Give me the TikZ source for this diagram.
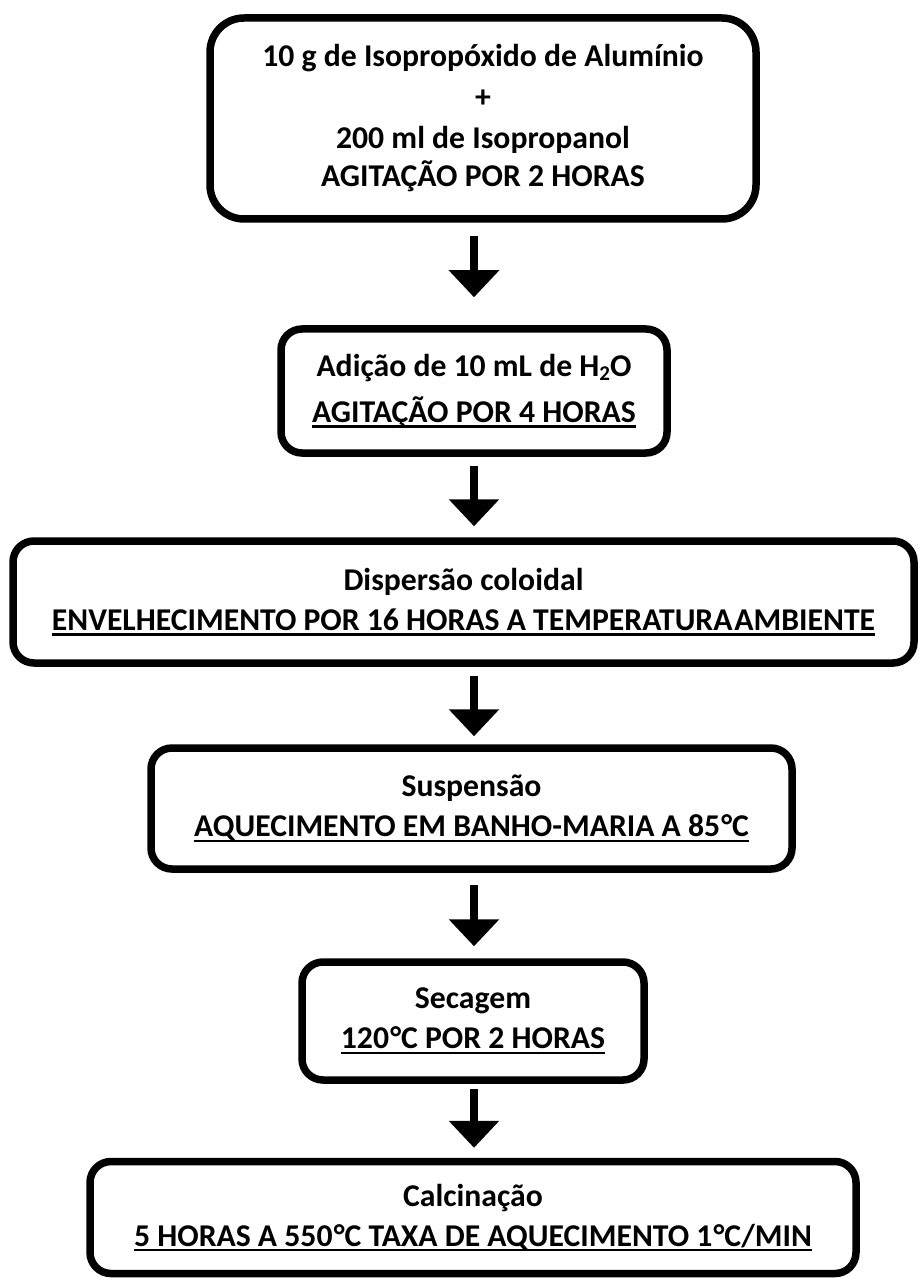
\documentclass[tikz,border=0pt]{standalone}
\usepackage{fontspec}
\setmainfont{Carlito}
\usetikzlibrary{arrows.meta}

\newcommand{\undl}[1]{\setbox0=\hbox{#1}\rlap{\rule[-2.6pt]{\wd0}{1.2pt}}\box0}

\tikzset{
  stage/.style = {draw, line width=3.75pt, rounded corners=10.5pt, inner sep=0pt,
    align=center, font=\bfseries\fontsize{15.85pt}{20pt}\selectfont},
  flow/.style = {line width=4pt, -{Triangle[width=24.5pt, length=13.5pt]}}
}

\begin{document}
\begin{tikzpicture}[x=0.5pt, y=-0.5pt]
  \useasboundingbox (0,0) rectangle (918,1278);

  \node [stage, rounded corners=17pt, minimum width=273pt, minimum height=100.5pt,
         font=\bfseries\fontsize{15.85pt}{20.5pt}\selectfont]
    (Mix) at (483,118.5)
    {10 g de Isopropóxido de Alumínio\\+\\200 ml de Isopropanol\\[-1.5pt]AGITAÇÃO POR 2 HORAS};
  \node [stage, minimum width=193pt, minimum height=62pt] (Water) at (474,391)
    {Adição de 10 mL de H\raisebox{-2pt}{\fontsize{10.5pt}{10.5pt}\selectfont 2}O\\[3pt]\undl{AGITAÇÃO POR 4 HORAS}};
  \node [stage, minimum width=450.5pt, minimum height=61pt] (Sol) at (463.5,602)
    {Dispersão coloidal\\\undl{ENVELHECIMENTO POR 16 HORAS A TEMPERATURA\kern1pt AMBIENTE}};
  \node [stage, minimum width=320.5pt, minimum height=60.5pt] (Susp) at (471.5,808.5)
    {Suspensão\\\undl{AQUECIMENTO EM BANHO-MARIA A 85\kern0.6pt°C}};
  \node [stage, minimum width=171pt, minimum height=59pt] (Dry) at (473,1021)
    {Secagem\\\undl{120\kern0.6pt°C POR 2 HORAS}};
  \node [stage, minimum width=383pt, minimum height=56pt] (Calc) at (473,1217.5)
    {Calcinação\\\undl{5 HORAS A 550\kern0.6pt°C TAXA DE AQUECIMENTO 1\kern0.6pt°C/MIN}};

  % arrows between the steps
  \draw [flow, shorten <=6.5pt, shorten >=14pt] (Mix.south -| Water.north) -- (Water.north);
  \draw [flow, shorten <=4.5pt, shorten >=5.5pt] (Water.south) -- (Water.south |- Sol.north);
  \draw [flow, shorten <=4.5pt, shorten >=4pt] (Sol.south -| Water.south) -- (Water.south |- Susp.north);
  \draw [flow, shorten <=6pt, shorten >=6pt] (Susp.south -| Water.south) -- (Water.south |- Dry.north);
  \draw [flow, shorten <=2.5pt, shorten >=5pt] (Dry.south -| Water.south) -- (Water.south |- Calc.north);
\end{tikzpicture}
\end{document}
